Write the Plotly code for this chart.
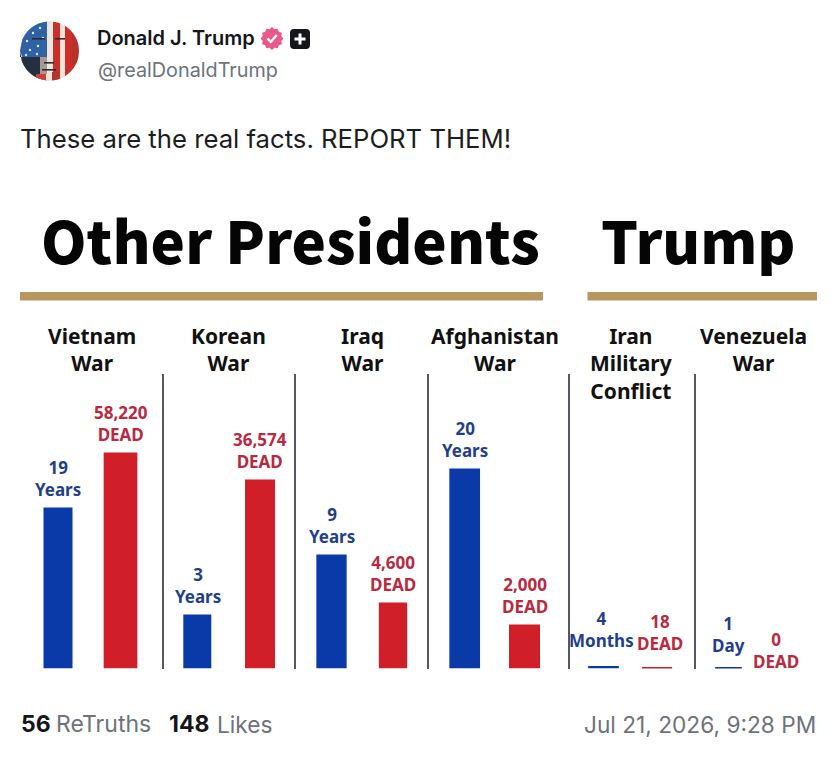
"""Duration and death toll of US wars, laid out as a social media post."""
import numpy as np
import plotly.graph_objects as go
from plotly.subplots import make_subplots

WIDTH = 840
HEIGHT = 760

WARS = ["Vietnam<br>War", "Korean<br>War", "Iraq<br>War", "Afghanistan<br>War",
        "Iran<br>Military<br>Conflict", "Venezuela<br>War"]
DURATION_LABELS = ["19<br>Years", "3<br>Years", "9<br>Years", "20<br>Years",
                   "4<br>Months", "1<br>Day"]
DEAD_LABELS = ["58,220<br>DEAD", "36,574<br>DEAD", "4,600<br>DEAD", "2,000<br>DEAD",
               "18<br>DEAD", "0<br>DEAD"]
# The graphic has no axis and no common scale, so bar lengths are read as drawn
DURATION_BARS = [161, 54, 114, 200, 2.5, 1.2]
DEAD_BARS = [216, 189, 66, 44, 1.5, 0]

BLUE = "#0a3aa8"
RED = "#d01f28"
BLUE_TEXT = "#1f3f8c"
RED_TEXT = "#b72a40"
GOLD = "#b8975f"
RULE = "#55585f"
INK = "#14161c"
GREY = "#6e727b"

# Page pixels for each war's panel and its two bars
PANEL_EDGES = [20, 163.5, 295.5, 428.5, 569.5, 695.8, 817]
TITLE_CENTERS = [91.5, 229, 362, 494.5, 631, 753]
BAR_CENTERS = [(58, 120.5), (197.3, 260), (331.5, 393), (464.7, 524.5),
               (603.5, 657), (728.5, 776)]
BAR_WIDTHS = [(29, 33.7), (28, 30), (30.3, 28.3), (30.7, 31), (30.7, 30.3), (26.7, 27)]
BASELINE = 668.5
PANEL_TOP = 374
# Label nudges in pixels: (duration dx, dy), (dead dx, dy)
LABEL_SHIFTS = [((0, 5), (0, 5)), ((1, 5), (0, 5)), ((0, 5), (0, 5)), ((0, 5), (0, 5)),
                ((-2, 12), (3, 10)), ((0, 8), (0, -6))]


def px(x):
    """Page pixel to paper x."""
    return x / WIDTH


def py(y):
    """Page pixel to paper y."""
    return 1.0 - y / HEIGHT


def add_text(fig, x, y, text, size, color, family="Inter", weight=400, anchor="left"):
    """Place a line of text by its page pixel position."""
    fig.add_annotation(
        x=px(x), y=py(y), xref="paper", yref="paper", text=text, showarrow=False,
        xanchor=anchor, yanchor="middle", borderpad=0,
        font={"family": family, "size": size, "color": color, "weight": weight},
    )


def add_path(fig, points, color):
    """Draw a filled polygon from page pixel points."""
    path = "M" + "L".join(f"{px(x):.5f},{py(y):.5f}" for x, y in points) + "Z"
    fig.add_shape(type="path", path=path, xref="paper", yref="paper",
                  fillcolor=color, line_width=0, layer="above")


def add_box(fig, x0, y0, x1, y1, color, kind="rect"):
    """Draw a rectangle or circle from page pixels."""
    fig.add_shape(type=kind, x0=px(x0), x1=px(x1), y0=py(y0), y1=py(y1),
                  xref="paper", yref="paper", fillcolor=color, line_width=0,
                  layer="above")


def stripe(cx, cy, radius, left, right, top=-99.0, bottom=99.0):
    """Band of a circle between two x values and two y limits, as polygon points."""
    xs = np.linspace(left, right, 12)
    half = np.sqrt(np.maximum(radius ** 2 - (xs - cx) ** 2, 0.0))
    upper = np.maximum(cy - half, top)
    lower = np.minimum(cy + half, bottom)
    return list(zip(xs, upper)) + list(zip(xs[::-1], lower[::-1]))


def add_avatar(fig):
    """Rough flag portrait."""
    cx, cy, radius = 49.5, 51, 29.5
    add_box(fig, cx - radius, cy - radius, cx + radius, cy + radius, "#d4c9c2", "circle")
    add_path(fig, stripe(cx, cy, radius, cx - radius, 47, bottom=57), "#2f62a5")
    add_path(fig, stripe(cx, cy, radius, cx - radius, 40, top=57), "#22303f")
    add_path(fig, stripe(cx, cy, radius, 40, 47, top=57), "#a89a92")
    add_path(fig, stripe(cx, cy, radius, 47, 53), "#ece6e0")
    add_path(fig, stripe(cx, cy, radius, 53, 60), "#c9302b")
    add_path(fig, stripe(cx, cy, radius, 60, 65), "#efe3da")
    add_path(fig, stripe(cx, cy, radius, 65, 72), "#cf2e28")
    add_path(fig, stripe(cx, cy, radius, 72, cx + radius), "#b5332d")
    add_path(fig, stripe(cx, cy, radius, 36, 46, top=74), "#c9423c")
    add_path(fig, stripe(cx, cy, radius, 46, 52, top=74), "#efe3da")
    add_path(fig, stripe(cx, cy, radius, 52, 60, top=72), "#b5332d")
    for x, y in [(27, 41), (33, 33), (40, 28), (30, 50), (38, 46), (26, 55), (37, 54), (43, 38)]:
        add_box(fig, x - 1.2, y - 1.2, x + 1.2, y + 1.2, "#dfe8f2", "circle")
    for left, right, top in [(32, 45, 38), (55, 65, 38), (44, 54, 62), (42, 56, 69)]:
        add_box(fig, left, top, right, top + 1.6, "#2b2a33")


def add_badges(fig):
    """Verified badge and the plus badge."""
    cx, cy = 272, 38.5
    angles = np.linspace(0, 2 * np.pi, 97)[:-1]
    radii = 10.4 + 0.8 * np.cos(angles * 12)
    add_path(fig, list(zip(cx + radii * np.cos(angles), cy + radii * np.sin(angles))), "#e9588a")
    fig.add_shape(type="path", xref="paper", yref="paper", layer="above",
                  path=f"M{px(cx - 4.5)},{py(cy)}L{px(cx - 1.2)},{py(cy + 3.5)}L{px(cx + 4.8)},{py(cy - 3.5)}",
                  line={"color": "white", "width": 2.4})
    # Rounded square
    add_box(fig, 294, 29, 306, 49, INK)
    add_box(fig, 290, 33, 310, 45, INK)
    for x, y in [(294, 33), (306, 33), (294, 45), (306, 45)]:
        add_box(fig, x - 4, y - 4, x + 4, y + 4, INK, "circle")
    add_box(fig, 298.5, 33.5, 301.5, 44.5, "white")
    add_box(fig, 294.5, 37.5, 305.5, 40.5, "white")


fig = make_subplots(rows=1, cols=6)

for i, war in enumerate(WARS):
    col = i + 1
    left, right = PANEL_EDGES[i], PANEL_EDGES[i + 1]
    first, second = BAR_CENTERS[i]
    unit = second - first
    categories = ["Duration", "Dead"]
    fig.add_trace(go.Bar(
        x=categories,
        y=[DURATION_BARS[i], DEAD_BARS[i]],
        width=[w / unit for w in BAR_WIDTHS[i]],
        marker={"color": [BLUE, RED], "line_width": 0},
        showlegend=False,
        hoverinfo="skip",
    ), row=1, col=col)

    fig.update_xaxes(
        type="category", visible=False,
        domain=[px(left), px(right)],
        range=[(left - first) / unit, (right - first) / unit],
        row=1, col=col,
    )
    # Panel divider is the y axis line, except for the first panel
    fig.update_yaxes(
        domain=[py(BASELINE), py(PANEL_TOP)],
        range=[0, BASELINE - PANEL_TOP],
        showgrid=False, zeroline=False, showticklabels=False, ticks="",
        showline=i > 0, linecolor=RULE, linewidth=2,
        row=1, col=col,
    )

    # Value labels sit on the bars
    suffix = "" if i == 0 else str(col)
    rows = [
        (categories[0], DURATION_BARS[i], DURATION_LABELS[i], BLUE_TEXT, LABEL_SHIFTS[i][0]),
        (categories[1], DEAD_BARS[i], DEAD_LABELS[i], RED_TEXT, LABEL_SHIFTS[i][1]),
    ]
    for category, value, label, color, (dx, dy) in rows:
        fig.add_annotation(
            x=category, y=value, xref=f"x{suffix}", yref=f"y{suffix}",
            text=label, showarrow=False, yanchor="bottom", xshift=dx, yshift=dy,
            font={"family": "Noto Sans", "size": 17, "color": color, "weight": 700},
        )

    # War names
    fig.add_annotation(
        x=px(TITLE_CENTERS[i]), y=py(320.5), xref="paper", yref="paper", text=war,
        showarrow=False, yanchor="top", xanchor="center",
        font={"family": "Noto Sans", "size": 21, "color": "#111111", "weight": 700},
    )

# Group headings and their rules
add_text(fig, 290, 239, "Other Presidents", 58, "#050505", "Noto Sans CJK SC", 900, "center")
add_text(fig, 698, 239, "Trump", 58, "#050505", "Noto Sans CJK SC", 900, "center")
add_box(fig, 20, 292, 543, 300.5, GOLD)
add_box(fig, 587.5, 292, 817, 300.5, GOLD)

# Post header and footer
add_avatar(fig)
add_badges(fig)
add_text(fig, 96, 38, "Donald J. Trump", 20, INK, weight=600)
add_text(fig, 96.5, 70, "@realDonaldTrump", 19.8, GREY)
add_text(fig, 19, 138, "These are the real facts. REPORT THEM!", 25.7, "#1b1d22")
add_text(fig, 19.5, 724, "<b>56</b>", 23, INK)
add_text(fig, 54.5, 724, "ReTruths", 23, GREY)
add_text(fig, 168, 724, "<b>148</b>", 23, INK)
add_text(fig, 216, 724, "Likes", 22.7, GREY)
add_text(fig, 817, 724, "Jul 21, 2026, 9:28 PM", 22.7, GREY, anchor="right")

fig.update_layout(
    width=WIDTH,
    height=HEIGHT,
    margin={"l": 0, "r": 0, "t": 0, "b": 0},
    paper_bgcolor="white",
    plot_bgcolor="rgba(0,0,0,0)",
    showlegend=False,
)

fig.write_html("out.html", config={"displayModeBar": False},
               post_script="document.body.style.margin = '0';")
